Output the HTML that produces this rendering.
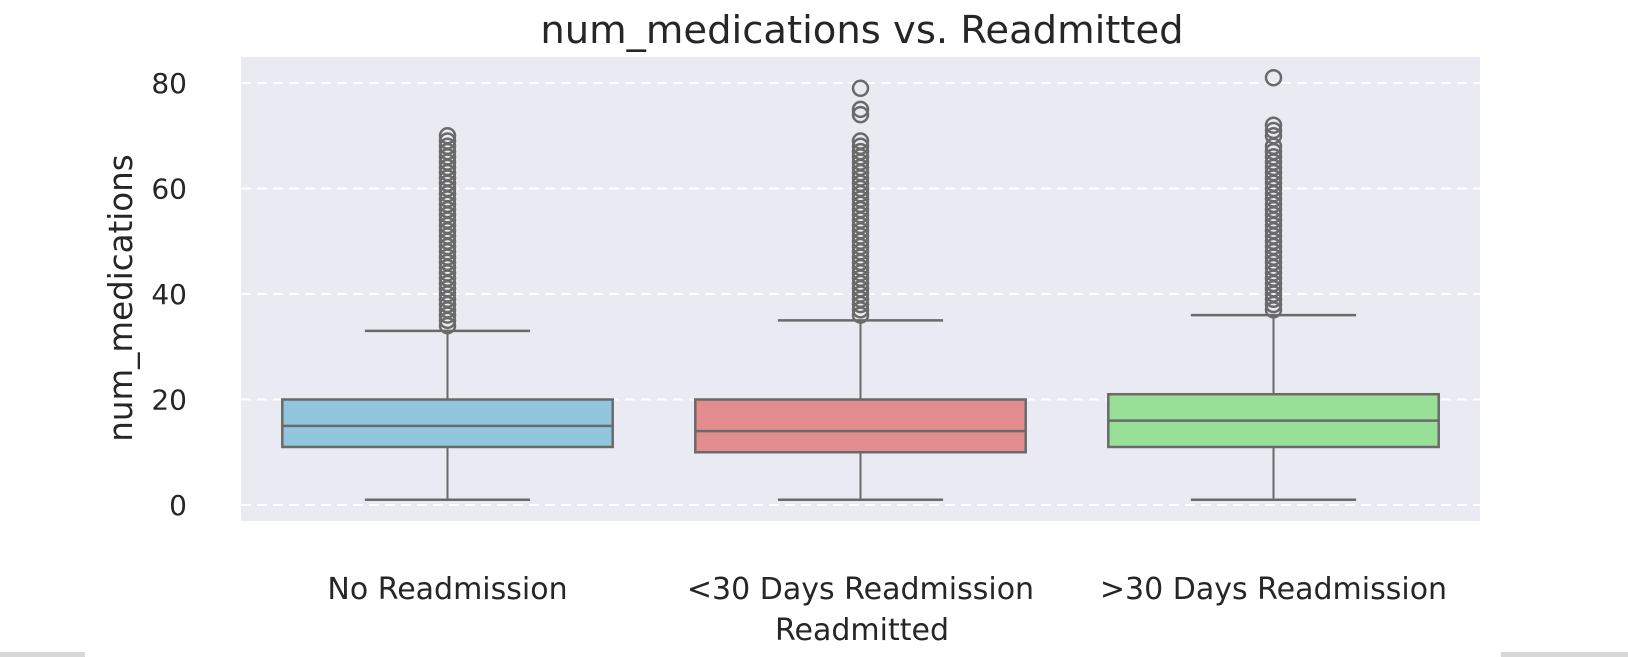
<!DOCTYPE html>
<html><head><meta charset="utf-8"><style>
html,body{margin:0;padding:0;background:#fff;}
svg{display:block;font-family:"DejaVu Sans","Liberation Sans",sans-serif;}
</style></head><body>
<svg id="chart" width="1628" height="657" viewBox="0 0 1628 657">
<rect x="0" y="652" width="85" height="5" fill="#d8d8d8"/>
<rect x="1501" y="652" width="127" height="5" fill="#d8d8d8"/>
<rect x="241" y="57" width="1239" height="464" fill="#eaeaf2"/>
<g id="grid"></g>
<g id="boxes"></g>
<g id="yticks"></g>
<g id="xticks"></g>
<text x="862" y="43" font-size="38.5" text-anchor="middle" fill="#262626">num_medications vs. Readmitted</text>
<text x="862" y="640" font-size="30" text-anchor="middle" fill="#262626">Readmitted</text>
<text transform="translate(132,298) rotate(-90)" font-size="32.5" text-anchor="middle" fill="#262626">num_medications</text>
</svg>
<script>
const categories = ["No Readmission", "<30 Days Readmission", ">30 Days Readmission"];
const whiskerLow = [1, 1, 1];
const q1 = [11, 10, 11];
const median = [15, 14, 16];
const q3 = [20, 20, 21];
const whiskerHigh = [33, 35, 36];
const fliers0 = [34,35,36,37,38,39,40,41,42,43,44,45,46,47,48,49,50,51,52,53,54,55,56,57,58,59,60,61,62,63,64,65,66,67,68,69,70];
const fliers1 = [36,37,38,39,40,41,42,43,44,45,46,47,48,49,50,51,52,53,54,55,56,57,58,59,60,61,62,63,64,65,66,67,68,69,74,75,79];
const fliers2 = [37,38,39,40,41,42,43,44,45,46,47,48,49,50,51,52,53,54,55,56,57,58,59,60,61,62,63,64,65,66,67,68,70,71,72,81];
const yTicks = [0, 20, 40, 60, 80];
const colors = ["#92c6df", "#e38c8e", "#98e098"];

const NS = "http://www.w3.org/2000/svg";
const plotL = 241, plotR = 1480;
function y(v){ return 505 - v * 5.275; }
const step = (plotR - plotL) / categories.length;
function xc(i){ return plotL + step * (i + 0.5); }
function mk(tag, attrs, parent){ const e = document.createElementNS(NS, tag); for (const k in attrs) e.setAttribute(k, attrs[k]); parent.appendChild(e); return e; }

const grid = document.getElementById("grid");
const yt = document.getElementById("yticks");
yTicks.forEach(t => {
  const l = mk("line", {x1: plotL, x2: plotR, y1: y(t), y2: y(t), stroke: "#ffffff", "stroke-width": 2, "stroke-dasharray": "10,6"}, grid);
  
  
  const tx = mk("text", {x: 187, y: y(t) + 10, "font-size": 28, "text-anchor": "end", fill: "#262626"}, yt);
  tx.textContent = t;
  
  
});

const boxes = document.getElementById("boxes");
const xt = document.getElementById("xticks");
const fl = [fliers0, fliers1, fliers2];
const bw = step * 0.8, cw = bw / 2;
const stroke = "#6a6a6a";
categories.forEach((c, i) => {
  const cx = xc(i);
  const g = mk("g", {}, boxes);
  
  
  mk("line", {x1: cx, x2: cx, y1: y(whiskerLow[i]), y2: y(q1[i]), stroke: stroke, "stroke-width": 2}, g);
  mk("line", {x1: cx, x2: cx, y1: y(q3[i]), y2: y(whiskerHigh[i]), stroke: stroke, "stroke-width": 2}, g);
  mk("line", {x1: cx - cw/2, x2: cx + cw/2, y1: y(whiskerLow[i]), y2: y(whiskerLow[i]), stroke: stroke, "stroke-width": 2.5}, g);
  mk("line", {x1: cx - cw/2, x2: cx + cw/2, y1: y(whiskerHigh[i]), y2: y(whiskerHigh[i]), stroke: stroke, "stroke-width": 2.5}, g);
  mk("rect", {x: cx - bw/2, y: y(q3[i]), width: bw, height: y(q1[i]) - y(q3[i]), fill: colors[i], stroke: stroke, "stroke-width": 2.5}, g);
  mk("line", {x1: cx - bw/2, x2: cx + bw/2, y1: y(median[i]), y2: y(median[i]), stroke: stroke, "stroke-width": 2.5}, g);
  fl[i].forEach(v => {
    const ci = mk("circle", {cx: cx, cy: y(v), r: 7.5, fill: "none", stroke: stroke, "stroke-width": 2.5}, g);
    
    
  });
  const tx = mk("text", {x: cx, y: 599, "font-size": 30, "text-anchor": "middle", fill: "#262626"}, xt);
  tx.textContent = c;
  
  
});
</script>
</body></html>
